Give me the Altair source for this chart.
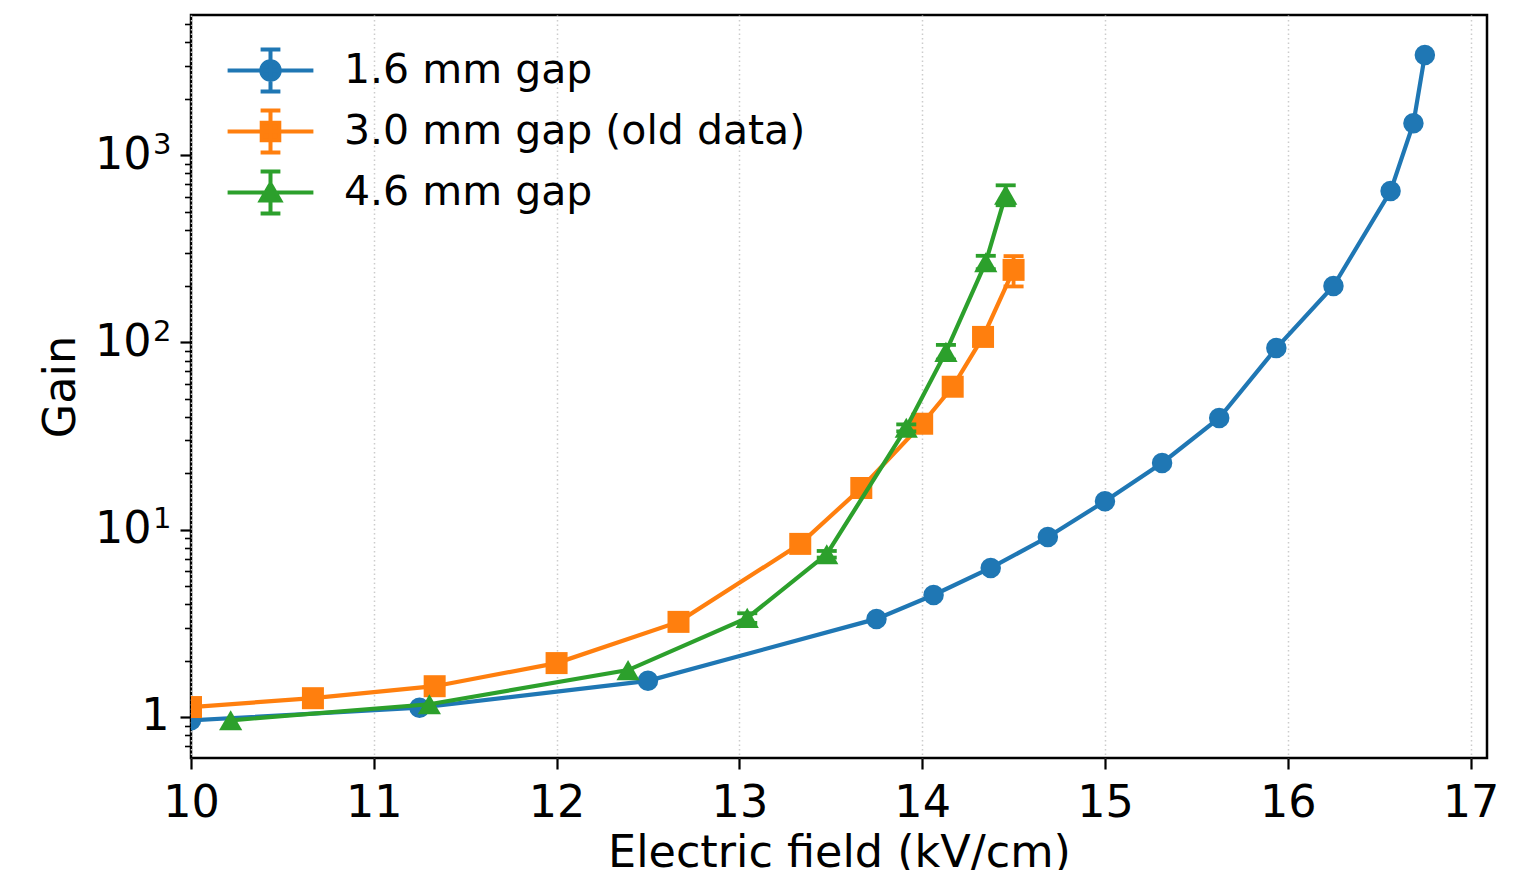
import altair as alt
import pandas as pd

# ---------------- data ----------------
series_names = ["1.6 mm gap", "3.0 mm gap (old data)", "4.6 mm gap"]
series_colors = ["#1f77b4", "#ff7f0e", "#2ca02c"]
series_shapes = ["circle", "square", "triangle-up"]
series_sizes = [420, 484, 540]

field_16 = [10.0, 11.25, 12.5, 13.75, 14.0625, 14.375, 14.6875, 15.0, 15.3125,
            15.625, 15.9375, 16.25, 16.5625, 16.6875, 16.75]
gain_16 = [0.96, 1.12, 1.56, 3.34, 4.48, 6.25, 9.14, 14.2, 22.7, 39.5, 93.3,
           200, 643, 1480, 3420]
err_16 = [0, 0, 0, 0, 0, 0, 0, 0, 0, 0, 0, 0, 0, 0, 0]

field_30 = [10.0, 10.667, 11.333, 12.0, 12.667, 13.333, 13.667, 14.0, 14.167,
            14.333, 14.5]
gain_30 = [1.13, 1.26, 1.46, 1.94, 3.22, 8.4, 16.7, 36.8, 58.0, 107, 244]
err_30 = [0, 0, 0, 0, 0, 0, 0, 0, 0, 4, 45]

field_46 = [10.217, 11.304, 12.391, 13.043, 13.478, 13.913, 14.13, 14.348, 14.457]
gain_46 = [0.96, 1.17, 1.78, 3.38, 7.4, 35.0, 89, 268, 615]
err_46 = [0, 0, 0, 0.2, 0.3, 1.5, 8, 22, 75]

x_ticks = [10, 11, 12, 13, 14, 15, 16, 17]
y_major = [1, 10, 100, 1000]
y_major_base = ["1", "10", "10", "10"]      # mantissa part of the log labels
y_major_exp = ["", "1", "2", "3"]           # exponent part (superscript)
y_minor = [0.7, 0.8, 0.9, 2, 3, 4, 5, 6, 7, 8, 9, 20, 30, 40, 50, 60, 70, 80, 90,
           200, 300, 400, 500, 600, 700, 800, 900, 2000, 3000, 4000, 5000]

x_domain = [10.0, 17.09]
y_domain = [0.604, 5600]

# ---------------- tables ----------------
frames = []
for name, xs, ys, es in [(series_names[0], field_16, gain_16, err_16),
                         (series_names[1], field_30, gain_30, err_30),
                         (series_names[2], field_46, gain_46, err_46)]:
    d = pd.DataFrame({"field": xs, "gain": ys, "err": es})
    d["series"] = name
    d["lo"] = d["gain"] - d["err"]
    d["hi"] = d["gain"] + d["err"]
    frames.append(d)
df = pd.concat(frames, ignore_index=True)

FONT = "DejaVu Sans"
TICK_FS = 44.5
TITLE_FS = 44.5

major_list = "[" + ",".join(str(v) for v in y_major) + "]"
is_major = f"indexof({major_list}, datum.value) >= 0"
base_expr = ""
exp_expr = ""
for v, b, e in zip(y_major, y_major_base, y_major_exp):
    base_expr += f"datum.value == {v} ? '{b}' : "
    exp_expr += f"datum.value == {v} ? '{e}' : "
base_expr += "''"
exp_expr += "''"

x_enc = alt.X(
    "field:Q",
    scale=alt.Scale(domain=x_domain, nice=False, zero=False),
    axis=alt.Axis(
        values=x_ticks, format="d", title="Electric field (kV/cm)",
        labelFontSize=TICK_FS, labelBaseline="alphabetic", labelPadding=47,
        tickSize=11, tickWidth=2.2, titleFontSize=TITLE_FS, titleBaseline="alphabetic",
        titleY=108, labelFlush=False,
    ),
)
y_scale = alt.Scale(type="log", domain=y_domain, nice=False)
y_noaxis = alt.Y("gain:Q", scale=y_scale, axis=None)

# main y axis: ticks (major + minor), grid, mantissa labels, title
y_axis_main = alt.Axis(
    orient="left",
    values=y_major + y_minor,
    labelExpr=base_expr,
    tickSize={"condition": {"test": is_major, "value": 11}, "value": 6.5},
    tickWidth={"condition": {"test": is_major, "value": 2.2}, "value": 1.6},
    gridOpacity={"condition": {"test": is_major, "value": 1}, "value": 0},
    labelPadding={"condition": {"test": "datum.value == 1", "value": 11}, "value": 29},
    labelFontSize=TICK_FS, labelBaseline="middle", labelFlush=False,
    title="Gain", titleFontSize=TITLE_FS, titleX=-117, titleY=371.5, titleAngle=270,
    titleAlign="center", titleBaseline="alphabetic",
)
# exponent labels drawn as a second, tick-less axis
y_axis_exp = alt.Axis(
    orient="left", values=y_major, labelExpr=exp_expr, ticks=False, tickSize=0,
    grid=False, domain=False, labelFontSize=29, labelPadding=20,
    labelBaseline="alphabetic", labelOffset=-2, labelFlush=False, title=None,
)

layers = []
for i, name in enumerate(series_names):
    sub = df[df["series"] == name]
    col = series_colors[i]
    base = alt.Chart(sub)
    layers.append(base.mark_line(strokeWidth=4.2, color=col, clip=True).encode(x=x_enc, y=y_noaxis))
    eb = sub[sub["err"] > 0]
    if len(eb):
        ebase = alt.Chart(eb)
        layers.append(ebase.mark_rule(strokeWidth=3.8, color=col, clip=True).encode(
            x=x_enc, y=alt.Y("lo:Q", scale=y_scale, axis=None), y2="hi:Q"))
        for fld in ["lo", "hi"]:
            layers.append(ebase.mark_tick(orient="horizontal", size=20, thickness=3.8,
                                          color=col, clip=True, opacity=1).encode(
                x=x_enc, y=alt.Y(f"{fld}:Q", scale=y_scale, axis=None)))
    layers.append(base.mark_point(filled=True, shape=series_shapes[i], size=series_sizes[i],
                                  color=col, opacity=1, strokeWidth=0, clip=True
                                  ).encode(x=x_enc, y=y_noaxis))

# axis-only layers (no marks drawn: data filtered away)
layers.append(alt.Chart(df).transform_filter("false").mark_point().encode(
    x=x_enc, y=alt.Y("gain:Q", scale=y_scale, axis=y_axis_main)))
layers.append(alt.Chart(df).transform_filter("false").mark_point().encode(
    x=x_enc, y=alt.Y("gain:Q", scale=y_scale, axis=y_axis_exp)))

# legend glyphs: line + errorbar + marker (like matplotlib's errorbar handle)
line_part = "M-3.9,0H3.9M0,-1.9V1.9M-0.9,-1.9H0.9M-0.9,1.9H0.9"
marker_parts = [
    "M-0.84,0A0.84,0.84 0 1,1 0.84,0A0.84,0.84 0 1,1 -0.84,0Z",
    "M-0.8,-0.8H0.8V0.8H-0.8Z",
    "M0,-0.8L0.88,0.72H-0.88Z",
]
legend_paths = [line_part + mp for mp in marker_parts]

leg = alt.Legend(
    title=None, orient="none", legendX=29, legendY=35, padding=0,
    labelFontSize=41, labelFont=FONT, labelColor="black", labelLimit=0,
    symbolSize=484, symbolStrokeWidth=4, symbolOpacity=1,
    symbolOffset=30, labelOffset=53, rowPadding=2,
)
legend_layer = alt.Chart(df).transform_filter("false").mark_point(
    filled=True, strokeWidth=4, opacity=1
).encode(
    x=x_enc, y=y_noaxis,
    fill=alt.Fill("series:N", scale=alt.Scale(domain=series_names, range=series_colors), legend=leg),
    stroke=alt.Stroke("series:N", scale=alt.Scale(domain=series_names, range=series_colors), legend=leg),
    shape=alt.Shape("series:N", scale=alt.Scale(domain=series_names, range=legend_paths), legend=leg),
)
layers.append(legend_layer)

chart = alt.layer(*layers).resolve_axis(y="independent").properties(
    width=1296, height=743,
    padding={"left": 183, "top": 7, "right": 23, "bottom": 112},
    autosize=alt.AutoSizeParams(type="none"),
).configure(font=FONT).configure_view(
    stroke="black", strokeWidth=2.5
).configure_axis(
    domain=False, grid=True, gridColor="#cccccc", gridDash=[1.5, 3], gridWidth=1.5,
    tickColor="black", labelColor="black", titleColor="black", titleFontWeight="normal",
    labelFont=FONT, titleFont=FONT,
)

chart.save("out.html", embed_options={"renderer": "svg", "actions": False})
